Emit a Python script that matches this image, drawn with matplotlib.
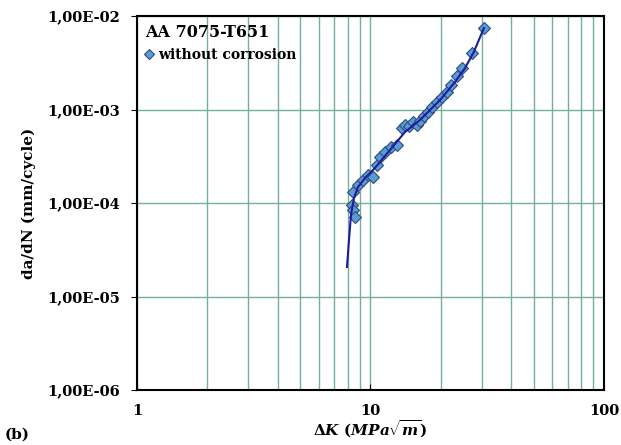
import matplotlib.pyplot as plt
from matplotlib.ticker import FixedLocator, LogLocator, NullFormatter

plt.rcParams['font.family'] = ['DejaVu Serif']
plt.rcParams['font.weight'] = 'bold'
plt.rcParams['axes.labelweight'] = 'bold'
plt.rcParams['mathtext.fontset'] = 'custom'
plt.rcParams['mathtext.rm'] = 'DejaVu Serif:bold'
plt.rcParams['mathtext.it'] = 'DejaVu Serif:bold:italic'

# measured points (without corrosion)
dk_points = [8.41, 8.33, 8.41, 8.58, 8.84, 9.29, 9.76, 10.25, 10.66, 10.98,
             11.54, 12.24, 12.98, 13.64, 14.05, 14.62, 15.21, 15.82, 16.29, 16.95,
             17.63, 18.34, 19.27, 20.23, 21.27, 22.12, 23.45, 24.64, 27.21, 30.62]
dadn_points = [1.31e-4, 9.5e-5, 8.4e-5, 7.1e-5, 1.56e-4, 1.76e-4, 1.99e-4, 1.90e-4, 2.55e-4, 3.10e-4,
               3.51e-4, 3.97e-4, 4.17e-4, 6.34e-4, 6.83e-4, 6.66e-4, 7.35e-4, 6.83e-4, 7.54e-4, 8.52e-4,
               9.40e-4, 1.06e-3, 1.20e-3, 1.36e-3, 1.54e-3, 1.83e-3, 2.28e-3, 2.78e-3, 4.02e-3, 7.44e-3]

# fitted curve
dk_fit = [7.93, 8.09, 8.25, 8.50, 8.84, 9.47, 10.45, 12.12, 14.05, 16.29, 19.84, 23.0, 25.4, 27.7, 30.6]
dadn_fit = [2.07e-5, 4.02e-5, 7.45e-5, 1.13e-4, 1.48e-4, 1.85e-4, 2.37e-4, 3.69e-4, 5.74e-4,
            7.72e-4, 1.26e-3, 1.97e-3, 2.78e-3, 4.12e-3, 7.44e-3]

y_ticks = [1e-6, 1e-5, 1e-4, 1e-3, 1e-2]
y_labels = ['1,00E-06', '1,00E-05', '1,00E-04', '1,00E-03', '1,00E-02']
x_ticks = [1, 10, 100]
x_labels = ['1', '10', '100']

fig = plt.figure(figsize=(6.21, 4.45), dpi=100)
ax = fig.add_axes([0.2206, 0.1236, 0.7520, 0.8404])
ax.set_xscale('log')
ax.set_yscale('log')
ax.set_xlim(1, 100)
ax.set_ylim(1e-6, 1e-2)

grid_color = '#74b09c'
ax.xaxis.set_minor_locator(LogLocator(base=10, subs=range(2, 10)))
ax.xaxis.set_minor_formatter(NullFormatter())
ax.yaxis.set_minor_locator(FixedLocator([]))
ax.grid(True, which='major', axis='both', color=grid_color, lw=1.0)
ax.grid(True, which='minor', axis='x', color=grid_color, lw=1.0)
ax.set_axisbelow(True)

ax.plot(dk_points, dadn_points, ls='none', marker='D', ms=6.5, mfc='#5b9bd5',
        mec='#2e4a7a', mew=0.8, label='without corrosion', zorder=3)
ax.plot(dk_fit, dadn_fit, color='#1c1c9c', lw=1.5, zorder=4)

ax.set_xticks(x_ticks)
ax.set_xticklabels(x_labels)
ax.set_yticks(y_ticks)
ax.set_yticklabels(y_labels)
ax.tick_params(axis='x', which='major', direction='in', length=4, pad=10, labelsize=10.5)
ax.tick_params(axis='x', which='minor', length=0)
ax.tick_params(axis='y', which='major', direction='out', length=4, pad=8, labelsize=10.5)
for s in ax.spines.values():
    s.set_linewidth(1.5)

ax.set_ylabel('da/dN (mm/cycle)', fontsize=11, labelpad=8)
fig.text(0.596, 0.012, r'$\Delta K\ (MPa\sqrt{m})$', fontsize=11, ha='center', va='bottom')

leg = ax.legend(loc='upper left', title='AA 7075-T651', frameon=False,
                alignment='left', fontsize=10, handlelength=0.6, handletextpad=0.3,
                borderaxespad=0.2, markerscale=0.8)
leg.get_title().set_fontsize(11.5)
leg.get_title().set_fontweight('bold')

fig.text(0.008, 0.015, '(b)', fontsize=11, fontweight='bold')

fig.savefig('out.png', dpi=100)
